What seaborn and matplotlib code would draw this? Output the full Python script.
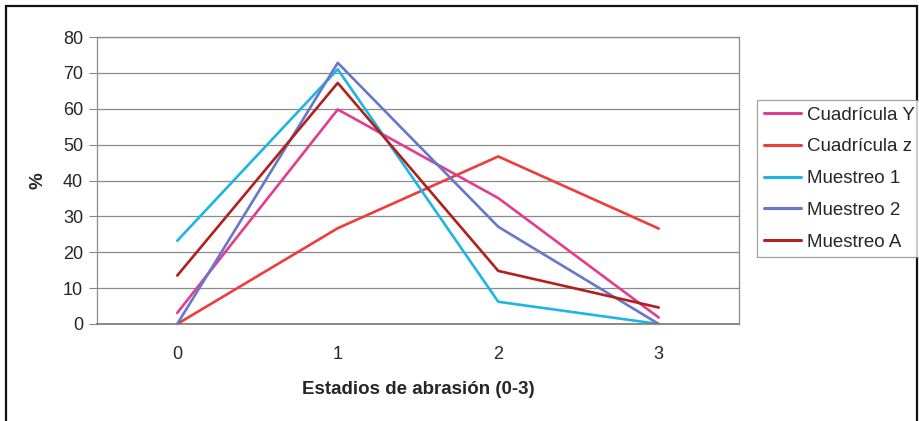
import matplotlib
matplotlib.use("Agg")
import matplotlib.pyplot as plt
import seaborn as sns
import pandas as pd
from matplotlib.patches import Rectangle

# ---- data ----
stages = [0, 1, 2, 3]
series_names = ["Cuadrícula Y", "Cuadrícula z", "Muestreo 1", "Muestreo 2", "Muestreo A"]
cuadricula_y = [3.1, 59.8, 35.1, 1.8]
cuadricula_z = [0.0, 26.7, 46.7, 26.6]
muestreo_1 = [23.2, 71.0, 6.2, 0.0]
muestreo_2 = [0.0, 72.8, 27.1, 0.0]
muestreo_a = [13.5, 67.2, 14.8, 4.6]
y_ticks = [0, 10, 20, 30, 40, 50, 60, 70, 80]
colors = ["#E23C8E", "#EE3B3B", "#1DB6E2", "#6677CC", "#B0201C"]

values = [cuadricula_y, cuadricula_z, muestreo_1, muestreo_2, muestreo_a]
rows = []
for name, vals in zip(series_names, values):
    for s, v in zip(stages, vals):
        rows.append({"Estadio": s, "Porcentaje": v, "Serie": name})
df = pd.DataFrame(rows)

sns.set_style("white")
plt.rcParams["font.family"] = ["Liberation Sans", "DejaVu Sans"]

fig = plt.figure(figsize=(9.19, 4.21), dpi=100)
W, H = 919, 421
ax = fig.add_axes([97 / W, 1 - 324 / H, (739 - 97) / W, (324 - 37) / H])

sns.lineplot(data=df, x="Estadio", y="Porcentaje", hue="Serie",
             hue_order=series_names, palette=colors, linewidth=1.9,
             ax=ax, legend=True)

ax.set_xlim(-0.5, 3.5)
ax.set_ylim(0, 80)
ax.set_yticks(y_ticks)
ax.set_yticklabels([str(t) for t in y_ticks], fontsize=13)
ax.set_xticks(stages)
ax.set_xticklabels([str(s) for s in stages], fontsize=13)
ax.set_xticks([-0.5, 0.5, 1.5, 2.5, 3.5], minor=True)
ax.tick_params(axis="x", which="major", length=0, pad=16)
ax.tick_params(axis="x", which="minor", length=5, color="#888888", direction="out")
ax.tick_params(axis="y", which="major", length=6, color="#888888", direction="out",
               pad=4, left=True)

ax.grid(axis="y", color="#8a8a8a", linewidth=0.9)
ax.set_axisbelow(True)
for side in ["left", "right", "bottom", "top"]:
    ax.spines[side].set_color("#8a8a8a")
    ax.spines[side].set_linewidth(0.9)
ax.spines["bottom"].set_linewidth(1.2)
ax.spines["bottom"].set_color("#777777")

ax.set_xlabel("Estadios de abrasión (0-3)", fontsize=13.5, fontweight="bold", labelpad=13)
ax.set_ylabel("%", fontsize=13.5, fontweight="bold", labelpad=12)

handles, labels = ax.get_legend_handles_labels()
ax.get_legend().remove()
leg = fig.legend(handles, labels, loc="upper left",
                 bbox_to_anchor=(757 / W, 1 - 100 / H), fontsize=13.5,
                 frameon=True, fancybox=False, handlelength=2.0, handletextpad=0.3,
                 labelspacing=0.78, borderpad=0.35, borderaxespad=0)
leg.get_frame().set_edgecolor("#8a8a8a")
leg.get_frame().set_linewidth(0.9)
for line in leg.get_lines():
    line.set_linewidth(2.2)

# outer chart frame
fig.patches.append(Rectangle((6 / W, -0.1), (917 - 6) / W, 1.1 - 6 / H,
                             transform=fig.transFigure, fill=False,
                             edgecolor="#111111", linewidth=1.6))

fig.savefig("out.png", dpi=100)
